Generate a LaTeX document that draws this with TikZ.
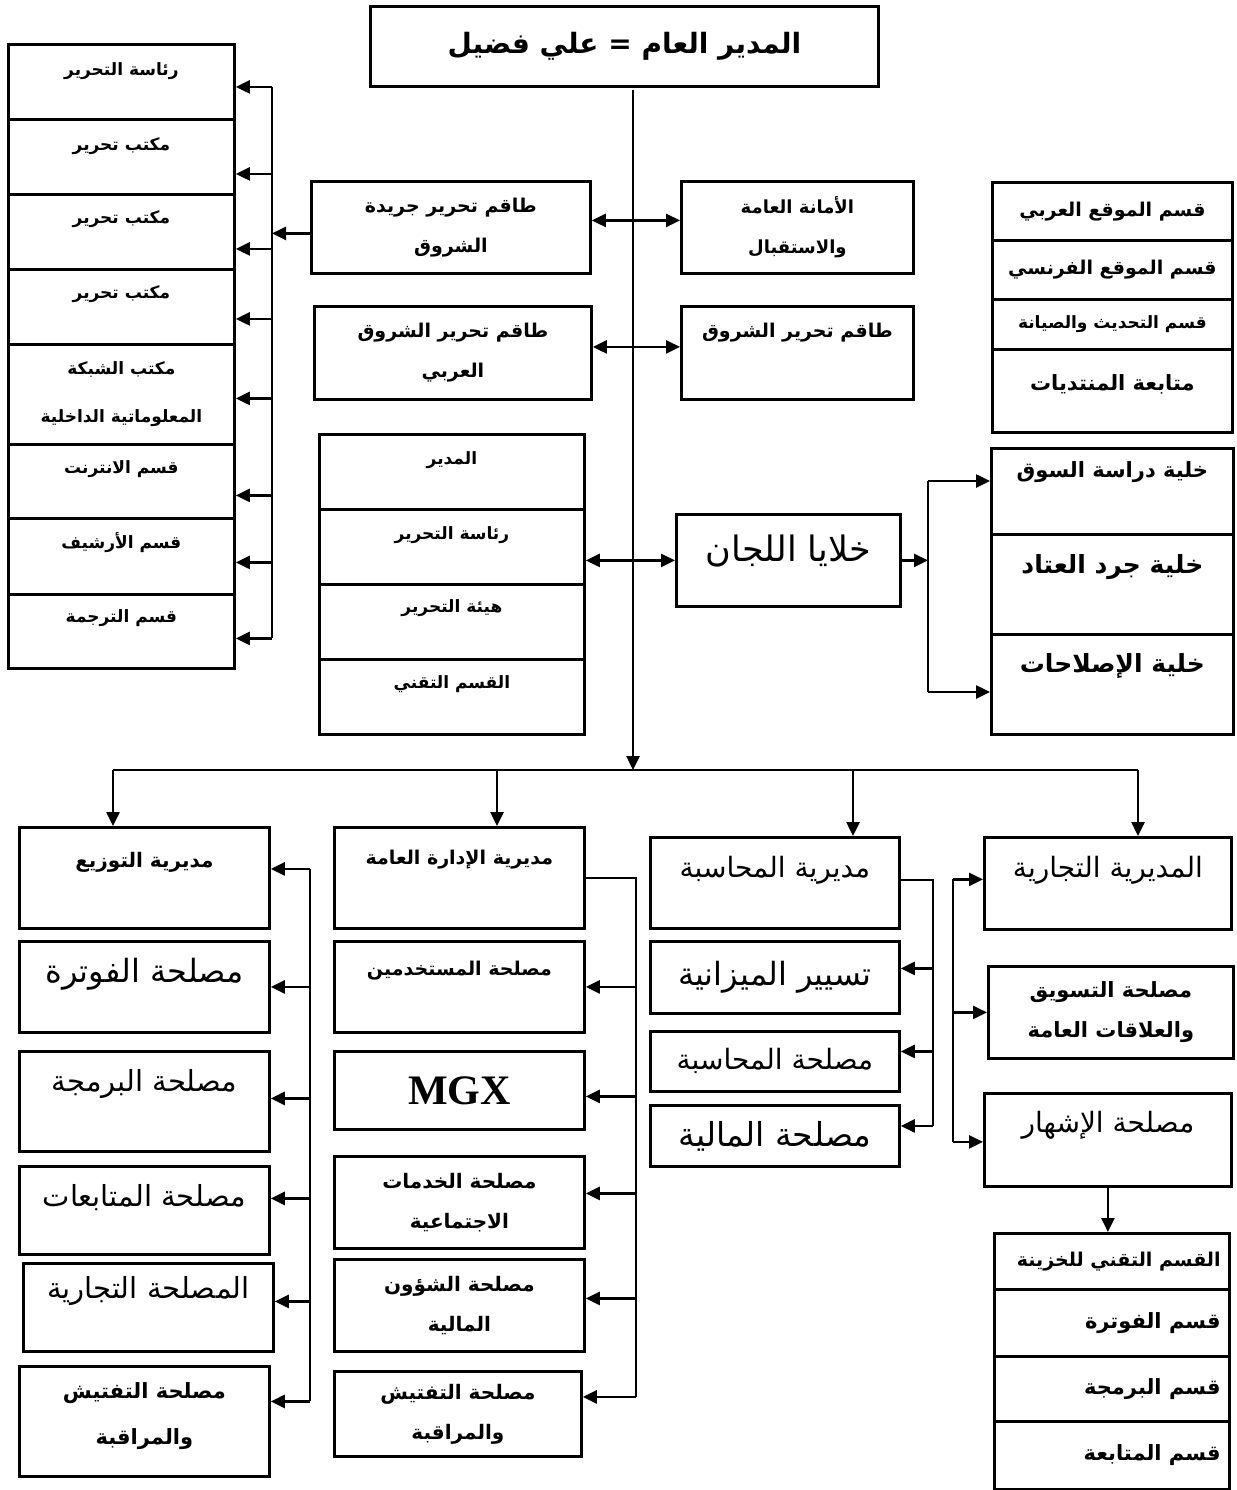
\documentclass[tikz,border=0pt]{standalone}
\usepackage{fontspec}
\usetikzlibrary{arrows.meta,positioning}
\newfontfamily\arabicfont[Script=Arabic]{DejaVu Sans}
\newfontfamily\latinserif{Liberation Serif}
\TeXXeTstate=1
\newcommand{\artext}[1]{\beginR #1\endR}

\begin{document}
\begin{tikzpicture}[x=1pt,y=-1pt,
    >={Triangle[length=14pt,width=13pt]},
    cell/.style={draw, line width=2.8pt, anchor=north west, inner sep=0pt},
    link/.style={line width=2.5pt},
    bt/.style={font=\arabicfont\bfseries\fontsize{#1}{40}\selectfont, align=center, inner sep=0pt},
    rt/.style={font=\arabicfont\fontsize{#1}{40}\selectfont, align=center, inner sep=0pt}]
\useasboundingbox (0,0) rectangle (1236,1490);

% general manager and spine
\node[cell, bt=28, minimum width=508, minimum height=80] (gm) at (369,5) {\artext{المدير العام = علي فضيل}};
\coordinate (sp0) at (633,90);
\coordinate (sp1) at (633,770);
\draw[link,->] (sp0) -- (sp1);

% left stack
\node[cell, minimum width=226, minimum height=75] (r1) at (7,43) {};
\node[cell, minimum width=226, minimum height=75] (r2) at (7,118) {};
\node[cell, minimum width=226, minimum height=75] (r3) at (7,193) {};
\node[cell, minimum width=226, minimum height=75] (r4) at (7,268) {};
\node[cell, minimum width=226, minimum height=100] (r5) at (7,343) {};
\node[cell, minimum width=226, minimum height=74] (r6) at (7,443) {};
\node[cell, minimum width=226, minimum height=76] (r7) at (7,517) {};
\node[cell, minimum width=226, minimum height=74] (r8) at (7,593) {};
\node[bt=17] (r1t) at ([yshift=-28pt]r1.north) {\artext{رئاسة التحرير}};
\node[bt=17] (r2t) at ([yshift=-28pt]r2.north) {\artext{مكتب تحرير}};
\node[bt=17] (r3t) at ([yshift=-26pt]r3.north) {\artext{مكتب تحرير}};
\node[bt=17] (r4t) at ([yshift=-26pt]r4.north) {\artext{مكتب تحرير}};
\node[bt=17] (r5t) at (r5.center) {\artext{مكتب الشبكة}\\[8pt]\artext{المعلوماتية الداخلية}};
\node[bt=17] (r6t) at ([yshift=-26pt]r6.north) {\artext{قسم الانترنت}};
\node[bt=17] (r7t) at ([yshift=-26pt]r7.north) {\artext{قسم الأرشيف}};
\node[bt=17] (r8t) at ([yshift=-25pt]r8.north) {\artext{قسم الترجمة}};
\coordinate (lbr) at (272,0);
\foreach \n/\d in {r1/-5,r2/-17,r3/-17,r4/-12,r5/-4,r6/-14,r7/-6,r8/-7}
  \draw[link,->] ([yshift=\d pt]\n.east -| lbr) -- ([yshift=\d pt]\n.east);
\draw[link] ([yshift=-5pt]r1.east -| lbr) -- ([yshift=-7pt]r8.east -| lbr);

% boxes beside the spine
\node[cell, bt=19, minimum width=279, minimum height=92] (sh) at (310,180) {\artext{طاقم تحرير جريدة}\\\artext{الشروق}};
\node[cell, bt=18, minimum width=232, minimum height=92] (amana) at (680,180) {\artext{الأمانة العامة}\\\artext{والاستقبال}};
\node[cell, bt=19, minimum width=277, minimum height=93] (ar) at (313,305) {\artext{طاقم تحرير الشروق}\\\artext{العربي}};
\node[cell, minimum width=232, minimum height=93] (shq) at (680,305) {};
\node[bt=19] (shqt) at ([yshift=-28pt]shq.north) {\artext{طاقم تحرير الشروق}};
\draw[link,<->] ([yshift=7pt]sh.east) -- ([yshift=7pt]amana.west);
\draw[link,<->] ([yshift=6pt]ar.east) -- ([yshift=6pt]shq.west);
\draw[link,->] ([yshift=-6pt]sh.west) -- ([yshift=-6pt]sh.west -| lbr);

% middle stack
\node[cell, minimum width=265, minimum height=75] (m1) at (318,433) {};
\node[cell, minimum width=265, minimum height=75] (m2) at (318,508) {};
\node[cell, minimum width=265, minimum height=75] (m3) at (318,583) {};
\node[cell, minimum width=265, minimum height=75] (m4) at (318,658) {};
\node[bt=17] (m1t) at ([yshift=-27pt]m1.north) {\artext{المدير}};
\node[bt=17] (m2t) at ([yshift=-27pt]m2.north) {\artext{رئاسة التحرير}};
\node[bt=17] (m3t) at ([yshift=-25pt]m3.north) {\artext{هيئة التحرير}};
\node[bt=17] (m4t) at ([yshift=-26pt]m4.north) {\artext{القسم التقني}};

% committees
\node[cell, minimum width=224, minimum height=92] (lij) at (675,513) {};
\node[rt=35] (lijt) at ([yshift=-38pt]lij.north) {\artext{خلايا اللجان}};
\draw[link,<->] (lij.west -| m2.east) -- (lij.west);
\node[cell, minimum width=242, minimum height=86] (q1) at (990,447) {};
\node[cell, minimum width=242, minimum height=100] (q2) at (990,533) {};
\node[cell, minimum width=242, minimum height=100] (q3) at (990,633) {};
\node[bt=21] (q1t) at ([yshift=-25pt]q1.north) {\artext{خلية دراسة السوق}};
\node[bt=25] (q2t) at ([yshift=-34pt]q2.north) {\artext{خلية جرد العتاد}};
\node[bt=25] (q3t) at ([yshift=-33pt]q3.north) {\artext{خلية الإصلاحات}};
\coordinate (qbr) at (928,0);
\draw[link,->] (lij.east) -- (lij.east -| qbr);
\draw[link] ([yshift=-34pt]q1.north west -| qbr) -- ([yshift=-59pt]q3.north west -| qbr);
\draw[link,->] ([yshift=-34pt]q1.north west -| qbr) -- ([yshift=-34pt]q1.north west);
\draw[link,->] ([yshift=-59pt]q3.north west -| qbr) -- ([yshift=-59pt]q3.north west);

% web sections
\node[cell, bt=19, minimum width=240, minimum height=58] (p1) at (991,181) {\artext{قسم الموقع العربي}};
\node[cell, bt=19, minimum width=240, minimum height=59] (p2) at (991,239) {\artext{قسم الموقع الفرنسي}};
\node[cell, bt=17, minimum width=240, minimum height=50] (p3) at (991,298) {\artext{قسم التحديث والصيانة}};
\node[cell, minimum width=240, minimum height=83] (p4) at (991,348) {};
\node[bt=21] (p4t) at ([yshift=-36pt]p4.north) {\artext{متابعة المنتديات}};

% directorates bus
\coordinate (busA) at (113,770);
\coordinate (busB) at (497,770);
\coordinate (busC) at (853,770);
\coordinate (busD) at (1138,770);
\draw[link] (busA) -- (busD);

% distribution column
\node[cell, minimum width=250, minimum height=101] (a1) at (18,826) {};
\node[cell, minimum width=250, minimum height=91] (a2) at (18,940) {};
\node[cell, minimum width=250, minimum height=100] (a3) at (18,1050) {};
\node[cell, minimum width=250, minimum height=88] (a4) at (18,1165) {};
\node[cell, minimum width=250, minimum height=88] (a5) at (22,1262) {};
\node[cell, minimum width=250, minimum height=110] (a6) at (18,1365) {};
\node[bt=20] (a1t) at ([yshift=-36pt]a1.north) {\artext{مديرية التوزيع}};
\node[rt=32] (a2t) at ([yshift=-34pt]a2.north) {\artext{مصلحة الفوترة}};
\node[rt=29] (a3t) at ([yshift=-34pt]a3.north) {\artext{مصلحة البرمجة}};
\node[rt=29] (a4t) at ([yshift=-33pt]a4.north) {\artext{مصلحة المتابعات}};
\node[rt=29] (a5t) at ([yshift=-29pt]a5.north) {\artext{المصلحة التجارية}};
\node[bt=21] (a6t) at ([yshift=5pt]a6.center) {\artext{مصلحة التفتيش}\\[6pt]\artext{والمراقبة}};
\draw[link,->] (busA) -- (busA |- a1.north);
\coordinate (abr) at (310,0);
\foreach \n/\d in {a1/9,a2/0,a3/3,a4/12,a5/6,a6/20}
  \draw[link,->] ([yshift=\d pt]\n.east -| abr) -- ([yshift=\d pt]\n.east);
\draw[link] ([yshift=9pt]a1.east -| abr) -- ([yshift=20pt]a6.east -| abr);

% administration column
\node[cell, minimum width=250, minimum height=101] (b1) at (333,826) {};
\node[cell, minimum width=250, minimum height=91] (b2) at (333,940) {};
\node[cell, minimum width=250, minimum height=78] (b3) at (333,1050) {};
\node[cell, bt=20, minimum width=250, minimum height=92] (b4) at (333,1155) {\artext{مصلحة الخدمات}\\\artext{الاجتماعية}};
\node[cell, bt=20, minimum width=250, minimum height=92] (b5) at (333,1258) {\artext{مصلحة الشؤون}\\\artext{المالية}};
\node[cell, bt=20, minimum width=247, minimum height=85] (b6) at (333,1370) {\artext{مصلحة التفتيش}\\\artext{والمراقبة}};
\node[bt=19] (b1t) at ([yshift=-34pt]b1.north) {\artext{مديرية الإدارة العامة}};
\node[bt=19] (b2t) at ([yshift=-31pt]b2.north) {\artext{مصلحة المستخدمين}};
\node[font=\latinserif\bfseries\fontsize{42}{46}\selectfont, inner sep=0pt] (b3t) at (b3.center) {MGX};
\draw[link,->] (busB) -- (busB |- b1.north);
\draw[link] (b1.east) -- ++(50,0) coordinate (bbr) -- ([yshift=17pt]b6.east -| bbr);
\foreach \n/\d in {b2/0,b3/-6,b4/9,b5/7,b6/17}
  \draw[link,->] ([yshift=\d pt]\n.east -| bbr) -- ([yshift=\d pt]\n.east);

% accounting column
\node[cell, minimum width=249, minimum height=91] (c1) at (649,836) {};
\node[cell, rt=32, minimum width=249, minimum height=72] (c2) at (649,940) {\artext{تسيير الميزانية}};
\node[cell, rt=28, minimum width=249, minimum height=60] (c3) at (649,1030) {\artext{مصلحة المحاسبة}};
\node[cell, rt=33, minimum width=249, minimum height=61] (c4) at (649,1104) {\artext{مصلحة المالية}};
\node[rt=28] (c1t) at ([yshift=-34pt]c1.north) {\artext{مديرية المحاسبة}};
\draw[link,->] (busC) -- (busC |- c1.north);
\draw[link] ([yshift=3pt]c1.east) -- ++(32,0) coordinate (cbr) -- ([yshift=10pt]c4.east -| cbr);
\foreach \n/\d in {c2/9,c3/10,c4/10}
  \draw[link,->] ([yshift=\d pt]\n.east -| cbr) -- ([yshift=\d pt]\n.east);

% commercial column
\node[cell, minimum width=247, minimum height=92] (d1) at (983,836) {};
\node[cell, bt=21, minimum width=245, minimum height=92] (d2) at (987,965) {\artext{مصلحة التسويق}\\\artext{والعلاقات العامة}};
\node[cell, minimum width=247, minimum height=93] (d3) at (983,1092) {};
\node[rt=28] (d1t) at ([yshift=-34pt]d1.north) {\artext{المديرية التجارية}};
\node[rt=28] (d3t) at ([yshift=-33pt]d3.north) {\artext{مصلحة الإشهار}};
\draw[link,->] (busD) -- (busD |- d1.north);
\coordinate (dbr) at (953,0);
\draw[link] ([yshift=4pt]d1.west -| dbr) -- ([yshift=-2pt]d3.west -| dbr);
\draw[link,->] ([yshift=4pt]d1.west -| dbr) -- ([yshift=4pt]d1.west);
\draw[link,->] (d2.west -| dbr) -- (d2.west);
\draw[link,->] ([yshift=-2pt]d3.west -| dbr) -- ([yshift=-2pt]d3.west);

% treasury stack
\node[cell, minimum width=235, minimum height=56] (e1) at (993,1232) {};
\node[cell, minimum width=235, minimum height=67] (e2) at (993,1288) {};
\node[cell, minimum width=235, minimum height=65] (e3) at (993,1355) {};
\node[cell, minimum width=235, minimum height=68] (e4) at (993,1420) {};
\node[bt=19, anchor=east] (e1t) at ([xshift=-10pt]e1.east) {\artext{القسم التقني للخزينة}};
\node[bt=21, anchor=east] (e2t) at ([xshift=-10pt]e2.east) {\artext{قسم الفوترة}};
\node[bt=21, anchor=east] (e3t) at ([xshift=-10pt]e3.east) {\artext{قسم البرمجة}};
\node[bt=21, anchor=east] (e4t) at ([xshift=-10pt]e4.east) {\artext{قسم المتابعة}};
\draw[link,->] (d3.south) -- (d3.south |- e1.north);
\end{tikzpicture}
\end{document}
